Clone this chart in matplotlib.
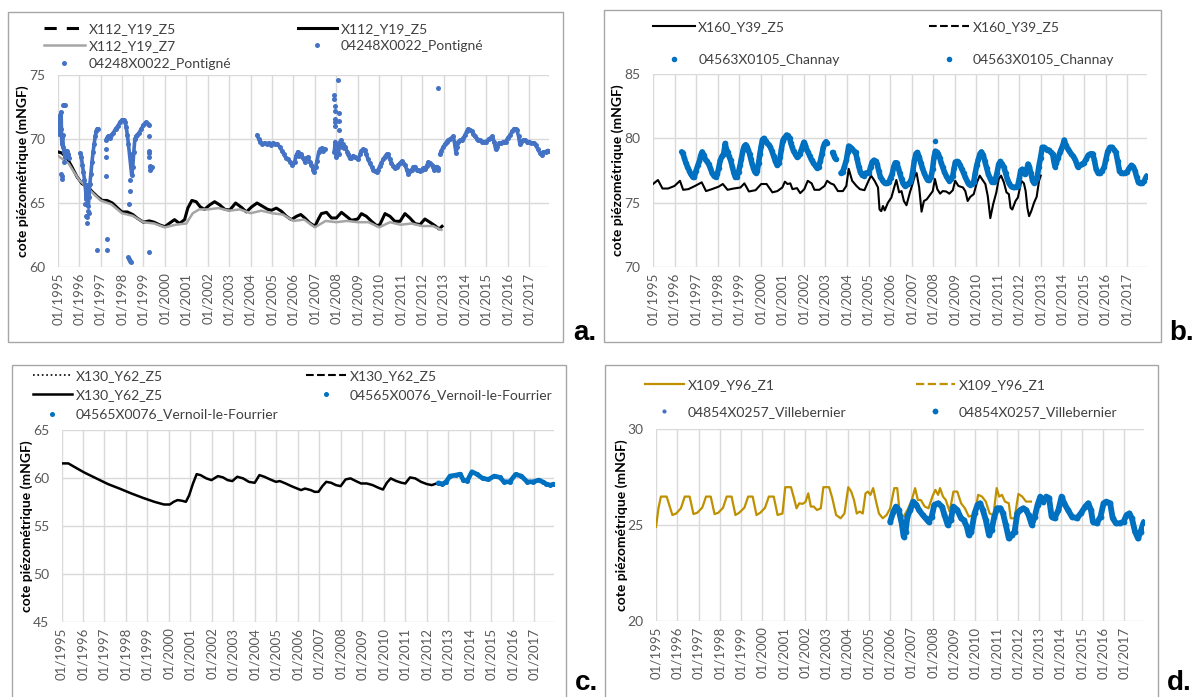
import matplotlib
matplotlib.use('Agg')
import matplotlib.pyplot as plt
import numpy as np
from matplotlib.patches import Rectangle
from matplotlib.legend import Legend

plt.rcParams['font.family'] = ['Lato', 'DejaVu Sans']

nan = np.nan

# ---------------- data (decimal years, mNGF) ----------------
tick_years = list(range(1995, 2018))
tick_labels = ['01/%d' % y for y in tick_years]

# a. Pontigne
a_z5 = [(1995.00, 69.0), (1995.20, 68.9), (1995.44, 68.5), (1995.67, 67.8), (1995.90, 67.05),
        (1996.14, 66.5), (1996.38, 66.3), (1996.60, 65.9), (1996.85, 65.5), (1997.08, 65.2),
        (1997.30, 65.2), (1997.55, 65.0), (1997.80, 64.6), (1998.00, 64.3), (1998.25, 64.3),
        (1998.50, 64.1), (1998.72, 63.8), (1999.00, 63.5), (1999.27, 63.6), (1999.50, 63.5),
        (1999.74, 63.3), (2000.00, 63.15), (2000.24, 63.45), (2000.45, 63.7), (2000.68, 63.4),
        (2000.92, 63.7), (2001.07, 64.6), (2001.26, 65.2), (2001.46, 65.1), (2001.65, 64.7),
        (2001.85, 64.5), (2002.09, 64.85), (2002.32, 65.1), (2002.56, 64.85), (2002.80, 64.5),
        (2003.03, 64.45), (2003.30, 65.0), (2003.58, 64.65), (2003.80, 64.3), (2004.05, 64.7),
        (2004.30, 65.0), (2004.60, 64.7), (2004.80, 64.5), (2004.97, 64.43), (2005.20, 64.6),
        (2005.44, 64.35), (2005.67, 63.96), (2005.90, 63.7), (2006.14, 63.96), (2006.34, 64.1),
        (2006.53, 63.83), (2006.76, 63.44), (2007.00, 63.18), (2007.15, 63.7), (2007.30, 64.17),
        (2007.54, 64.27), (2007.77, 63.83), (2008.00, 63.83), (2008.24, 64.27), (2008.47, 63.96),
        (2008.70, 63.65), (2009.00, 63.75), (2009.17, 64.17), (2009.40, 63.96), (2009.64, 63.57),
        (2009.88, 63.23), (2010.03, 63.31), (2010.27, 64.17), (2010.50, 63.96), (2010.73, 63.57),
        (2010.97, 63.57), (2011.20, 64.17), (2011.43, 63.83), (2011.67, 63.39), (2011.90, 63.31),
        (2012.13, 63.75), (2012.37, 63.49), (2012.60, 63.23), (2012.79, 62.97), (2012.93, 63.18)]
a_z7 = [(1995.00, 68.7), (1995.50, 68.1), (1996.00, 66.8), (1996.50, 66.0), (1997.00, 65.2),
        (1997.50, 64.9), (1998.00, 64.2), (1998.50, 64.0), (1999.00, 63.5), (1999.50, 63.4),
        (2000.00, 63.1), (2000.50, 63.3), (2001.00, 63.4), (2001.30, 64.2), (2001.60, 64.5),
        (2002.00, 64.5), (2002.50, 64.6), (2003.00, 64.4), (2003.50, 64.5), (2004.00, 64.2),
        (2004.50, 64.4), (2005.00, 64.2), (2005.50, 64.1), (2006.00, 63.6), (2006.50, 63.7),
        (2007.00, 63.1), (2007.50, 63.6), (2008.00, 63.5), (2008.50, 63.6), (2009.00, 63.5),
        (2009.50, 63.5), (2010.00, 63.1), (2010.50, 63.5), (2011.00, 63.3), (2011.50, 63.4),
        (2012.00, 63.2), (2012.50, 63.2), (2012.90, 62.9)]
a_obs = [(1995.00, 70.6), (1995.02, 71.4), (1995.04, 70.9), (1995.06, 71.7), (1995.08, 70.4),
         (1995.10, 71.3), (1995.12, 71.9), (1995.14, 70.8), (1995.16, 72.1), (1995.18, 70.2),
         (1995.20, 69.6), (1995.23, 70.3), (1995.26, 69.4), (1995.30, 69.0), (1995.34, 68.6),
         (1995.38, 68.9), (1995.42, 69.1), (1995.46, 68.7), (1995.50, 68.8), (1995.55, 68.5),
         (nan, nan),
         (1996.06, 68.9), (1996.10, 68.6), (1996.15, 68.0), (1996.20, 67.4), (1996.25, 66.8),
         (1996.30, 66.0), (1996.33, 65.3), (1996.36, 66.4), (1996.40, 65.6), (1996.43, 64.8),
         (1996.46, 65.5), (1996.50, 66.5), (1996.55, 67.3), (1996.60, 68.2), (1996.65, 69.0),
         (1996.70, 69.6), (1996.75, 70.2), (1996.80, 70.6), (1996.85, 70.8), (1996.90, 70.8),
         (nan, nan),
         (1997.25, 69.9), (1997.30, 70.1), (1997.35, 70.2), (1997.42, 70.1), (1997.50, 70.3),
         (1997.60, 70.5), (1997.70, 70.8), (1997.80, 71.0), (1997.90, 71.3), (1998.00, 71.5),
         (1998.08, 71.5), (1998.15, 71.3), (1998.20, 70.9), (1998.25, 70.3), (1998.30, 69.6),
         (1998.35, 68.8), (1998.40, 68.0), (1998.45, 67.2), (1998.50, 67.8), (1998.55, 69.0),
         (1998.60, 70.0), (1998.65, 70.2), (1998.70, 70.3), (1998.80, 70.5), (1998.90, 70.8),
         (1999.00, 71.1), (1999.10, 71.3), (1999.20, 71.2), (1999.25, 71.1),
         (nan, nan),
         (2004.30, 70.3), (2004.38, 70.0), (2004.46, 69.8), (2004.55, 69.6), (2004.65, 69.7),
         (2004.75, 69.6), (2004.85, 69.7), (2004.95, 69.5), (2005.05, 69.7), (2005.15, 69.6),
         (2005.25, 69.6), (2005.35, 69.4), (2005.45, 69.1), (2005.55, 68.8), (2005.65, 68.5),
         (2005.75, 68.4), (2005.85, 68.2), (2005.95, 68.0), (2006.05, 68.2), (2006.12, 68.7),
         (2006.20, 69.0), (2006.28, 68.7), (2006.37, 68.8), (2006.45, 68.5), (2006.53, 68.2),
         (2006.60, 68.5), (2006.68, 68.6), (2006.76, 68.2), (2006.84, 68.0), (2006.92, 67.6),
         (2006.97, 67.4), (2007.03, 67.8), (2007.10, 68.3), (2007.18, 69.0), (2007.25, 69.2),
         (2007.32, 69.3), (2007.40, 69.1), (2007.47, 69.2),
         (nan, nan),
         (2007.90, 69.0), (2007.95, 69.8), (2008.00, 68.6), (2008.05, 69.5), (2008.10, 68.8),
         (2008.15, 69.7), (2008.20, 69.9), (2008.25, 69.4), (2008.30, 69.6), (2008.35, 69.3),
         (2008.42, 69.4), (2008.50, 69.0), (2008.55, 68.8), (2008.62, 68.5), (2008.70, 68.5),
         (2008.78, 68.7), (2008.86, 68.6), (2008.94, 68.5), (2009.02, 68.4), (2009.10, 68.8),
         (2009.17, 69.1), (2009.25, 69.2), (2009.33, 69.15), (2009.40, 68.8), (2009.48, 68.4),
         (2009.56, 68.1), (2009.64, 67.85), (2009.72, 67.6), (2009.80, 67.5), (2009.88, 67.4),
         (2009.95, 67.6), (2010.03, 67.9), (2010.10, 68.1), (2010.18, 68.4), (2010.26, 68.6),
         (2010.34, 68.8), (2010.42, 68.8), (2010.50, 68.4), (2010.57, 68.1), (2010.65, 67.9),
         (2010.73, 67.7), (2010.81, 67.8), (2010.89, 68.0), (2010.97, 68.1), (2011.04, 68.25),
         (2011.12, 68.1), (2011.20, 68.0), (2011.28, 67.6), (2011.36, 67.3), (2011.44, 67.5),
         (2011.51, 67.6), (2011.59, 67.8), (2011.67, 67.85), (2011.75, 67.6), (2011.82, 67.6),
         (2011.90, 67.5), (2011.98, 67.6), (2012.06, 67.7), (2012.13, 67.65), (2012.21, 67.9),
         (2012.29, 68.2), (2012.37, 68.1), (2012.45, 68.0), (2012.52, 67.8), (2012.57, 67.6),
         (2012.63, 67.8), (2012.68, 67.85), (2012.72, 67.7), (2012.76, 67.6),
         (nan, nan),
         (2012.83, 68.8), (2012.90, 69.1), (2012.99, 69.4), (2013.07, 69.6), (2013.15, 69.8),
         (2013.22, 69.9), (2013.30, 70.0), (2013.38, 70.1), (2013.46, 70.2), (2013.52, 69.6),
         (2013.58, 68.9), (2013.64, 69.4), (2013.69, 69.8), (2013.77, 69.9), (2013.85, 69.9),
         (2013.93, 70.1), (2014.00, 70.3), (2014.08, 70.6), (2014.16, 70.8), (2014.24, 70.7),
         (2014.31, 70.6), (2014.39, 70.4), (2014.47, 70.2), (2014.55, 70.0), (2014.63, 69.9),
         (2014.71, 69.9), (2014.80, 69.8), (2014.90, 69.8), (2015.00, 69.8), (2015.10, 70.0),
         (2015.20, 70.1), (2015.28, 70.2), (2015.36, 69.8), (2015.43, 69.2), (2015.50, 69.4),
         (2015.60, 69.7), (2015.70, 69.7), (2015.80, 69.8), (2015.90, 69.8), (2016.00, 70.1),
         (2016.10, 70.3), (2016.20, 70.6), (2016.29, 70.8), (2016.36, 70.8), (2016.42, 70.7),
         (2016.50, 70.2), (2016.56, 69.6), (2016.62, 69.8), (2016.70, 69.9), (2016.80, 69.9),
         (2016.90, 69.8), (2017.00, 69.8), (2017.10, 69.7), (2017.20, 69.7), (2017.30, 69.5),
         (2017.40, 69.2), (2017.50, 68.9), (2017.58, 68.75), (2017.66, 69.0), (2017.76, 69.0),
         (2017.85, 69.1), (2017.92, 69.1)]
a_outliers = [(1995.15, 67.3), (1995.18, 66.9), (1995.21, 67.1), (1995.25, 72.65), (1995.30, 72.65),
              (1995.35, 72.65), (1995.28, 68.2), (1996.30, 64.0), (1996.35, 63.9), (1996.38, 63.4),
              (1996.42, 64.4), (1996.46, 64.2), (1996.28, 64.9), (1996.85, 61.3), (1997.25, 69.2),
              (1997.26, 68.6), (1997.27, 67.1), (1997.29, 62.2), (1997.29, 61.3), (1998.30, 60.8),
              (1998.33, 60.6), (1998.36, 60.45), (1998.40, 60.4), (1998.33, 64.9), (1998.35, 65.9),
              (1998.37, 66.8), (1999.27, 70.2), (1999.27, 69.1), (1999.28, 68.9), (1999.28, 68.6),
              (1999.30, 67.8), (1999.30, 67.6), (1999.32, 67.9), (1999.35, 67.7), (1999.38, 67.8),
              (1999.27, 61.2), (2007.90, 73.4), (2007.90, 73.1), (2007.92, 72.6), (2007.92, 72.2),
              (2007.93, 71.6), (2007.93, 71.3), (2007.94, 71.0), (2008.06, 74.6), (2008.10, 72.0),
              (2008.10, 71.4), (2008.12, 70.7), (2012.76, 74.0)]

# b. Channay
b_z5 = [(1995.00, 76.45), (1995.23, 76.76), (1995.44, 76.1), (1995.70, 76.1), (1996.00, 76.3),
        (1996.25, 76.7), (1996.40, 76.0), (1996.64, 76.05), (1996.95, 76.3), (1997.26, 76.58),
        (1997.46, 75.9), (1997.73, 76.05), (1998.04, 76.24), (1998.24, 76.45), (1998.46, 76.0),
        (1998.74, 76.1), (1999.06, 76.18), (1999.24, 76.5), (1999.45, 75.87), (1999.76, 75.97),
        (2000.02, 76.45), (2000.27, 76.45), (2000.54, 75.8), (2000.77, 75.9), (2001.00, 76.18),
        (2001.12, 76.63), (2001.24, 76.45), (2001.37, 76.5), (2001.47, 76.05), (2001.68, 76.13),
        (2001.83, 75.74), (2002.02, 76.05), (2002.18, 76.7), (2002.36, 76.5), (2002.49, 76.0),
        (2002.72, 76.0), (2002.96, 76.3), (2003.08, 76.7), (2003.24, 76.5), (2003.39, 76.4),
        (2003.58, 75.9), (2003.81, 75.9), (2003.97, 76.3), (2004.08, 77.63), (2004.24, 76.7),
        (2004.44, 76.3), (2004.60, 76.05), (2004.81, 75.97), (2005.00, 76.7), (2005.12, 77.1),
        (2005.28, 76.7), (2005.44, 76.18), (2005.51, 74.47), (2005.59, 74.34), (2005.67, 74.74),
        (2005.75, 74.4), (2005.90, 75.0), (2006.06, 75.4), (2006.21, 76.3), (2006.29, 76.76),
        (2006.42, 75.8), (2006.53, 75.9), (2006.64, 75.13), (2006.76, 74.8), (2006.92, 75.8),
        (2007.04, 76.45), (2007.15, 77.1), (2007.23, 77.3), (2007.35, 76.18), (2007.46, 74.3),
        (2007.57, 75.13), (2007.70, 75.26), (2007.82, 75.53), (2007.98, 75.9), (2008.08, 76.84),
        (2008.19, 76.05), (2008.32, 75.7), (2008.44, 75.9), (2008.60, 75.87), (2008.75, 75.7),
        (2008.91, 75.97), (2009.02, 76.7), (2009.17, 76.3), (2009.38, 76.18), (2009.49, 75.9),
        (2009.60, 75.13), (2009.72, 75.45), (2009.88, 75.66), (2010.03, 76.58), (2010.16, 77.1),
        (2010.26, 76.84), (2010.42, 76.45), (2010.53, 75.53), (2010.65, 73.8), (2010.78, 74.87),
        (2010.93, 75.8), (2011.04, 76.84), (2011.15, 77.1), (2011.28, 76.58), (2011.40, 75.8),
        (2011.51, 75.66), (2011.59, 74.6), (2011.67, 74.47), (2011.82, 75.13), (2011.93, 75.4),
        (2012.09, 76.7), (2012.21, 76.5), (2012.29, 75.9), (2012.37, 74.6), (2012.45, 73.95),
        (2012.55, 74.34), (2012.68, 75.0), (2012.80, 75.45), (2012.91, 76.7), (2012.99, 77.1)]
b_obs = [(1996.33, 78.95), (1996.38, 78.85), (1996.45, 78.5), (1996.52, 78.1), (1996.60, 77.8),
         (1996.68, 77.5), (1996.76, 77.2), (1996.84, 77.0), (1996.92, 77.0), (1997.00, 77.5),
         (1997.08, 77.9), (1997.15, 78.2), (1997.22, 78.7), (1997.28, 78.95), (1997.35, 78.7),
         (1997.42, 78.4), (1997.50, 78.2), (1997.58, 78.0), (1997.66, 77.7), (1997.74, 77.3),
         (1997.82, 77.1), (1997.90, 77.0), (1997.98, 77.2), (1998.05, 77.7), (1998.12, 78.3),
         (1998.20, 78.6), (1998.28, 78.8), (1998.35, 79.6), (1998.40, 79.2), (1998.46, 78.95),
         (1998.53, 78.6), (1998.60, 78.3), (1998.68, 77.8), (1998.75, 77.3), (1998.82, 77.0),
         (1998.90, 77.0), (1998.97, 77.4), (1999.04, 77.9), (1999.10, 78.4), (1999.18, 79.1),
         (1999.24, 79.4), (1999.30, 79.5), (1999.36, 79.3), (1999.42, 79.1), (1999.48, 78.8),
         (1999.54, 78.4), (1999.60, 78.0), (1999.66, 77.7), (1999.72, 77.4), (1999.78, 77.3),
         (1999.84, 77.5), (1999.90, 78.1), (1999.96, 78.8), (2000.02, 79.4), (2000.08, 79.9),
         (2000.15, 80.0), (2000.22, 79.8), (2000.30, 79.6), (2000.38, 79.5), (2000.45, 79.3),
         (2000.52, 79.0), (2000.60, 78.6), (2000.68, 78.2), (2000.76, 77.9), (2000.84, 78.1),
         (2000.90, 78.55), (2000.96, 79.2), (2001.02, 79.8), (2001.08, 80.0), (2001.14, 80.1),
         (2001.20, 80.26), (2001.28, 80.2), (2001.34, 80.0), (2001.40, 79.6), (2001.46, 79.3),
         (2001.52, 79.0), (2001.60, 78.8), (2001.68, 78.55), (2001.75, 78.6), (2001.82, 78.8),
         (2001.88, 79.1), (2001.94, 79.4), (2002.00, 79.7), (2002.06, 79.5), (2002.12, 79.2),
         (2002.20, 78.9), (2002.28, 78.6), (2002.36, 78.3), (2002.44, 78.1), (2002.52, 77.9),
         (2002.60, 77.7), (2002.68, 77.8), (2002.76, 78.2), (2002.84, 78.8), (2002.90, 79.3),
         (2002.96, 79.6), (2003.03, 79.74), (2003.08, 79.6),
         (nan, nan),
         (2003.33, 78.9), (2003.38, 78.7), (2003.43, 78.5), (2003.48, 78.4),
         (nan, nan),
         (2003.72, 77.3), (2003.80, 77.4), (2003.88, 77.8), (2003.97, 78.3), (2004.03, 78.9),
         (2004.08, 79.4), (2004.16, 79.3), (2004.24, 79.2), (2004.32, 79.0), (2004.40, 78.9),
         (2004.47, 78.4), (2004.55, 77.8), (2004.62, 77.4), (2004.70, 77.15), (2004.78, 77.1),
         (2004.86, 77.3), (2004.94, 77.3), (2005.02, 77.3), (2005.10, 77.8), (2005.17, 78.16),
         (2005.25, 78.3), (2005.33, 78.2), (2005.40, 78.0), (2005.47, 77.5), (2005.55, 77.0),
         (2005.63, 76.8), (2005.70, 76.6), (2005.78, 76.5), (2005.86, 76.5), (2005.94, 76.58),
         (2006.02, 76.9), (2006.10, 77.24), (2006.17, 77.8), (2006.24, 78.1), (2006.31, 78.1),
         (2006.38, 77.7), (2006.45, 77.3), (2006.53, 76.84), (2006.60, 76.5), (2006.68, 76.3),
         (2006.76, 76.4), (2006.84, 76.45), (2006.92, 76.6), (2006.99, 76.84), (2007.06, 77.5),
         (2007.13, 78.3), (2007.20, 78.8), (2007.27, 78.9), (2007.35, 78.55), (2007.42, 78.1),
         (2007.50, 77.7), (2007.58, 77.3), (2007.66, 77.0), (2007.74, 76.75), (2007.82, 76.8),
         (2007.90, 77.0), (2007.97, 77.6), (2008.04, 78.55), (2008.10, 79.0), (2008.16, 78.95),
         (2008.23, 78.8), (2008.30, 78.5), (2008.37, 78.1), (2008.44, 77.76), (2008.52, 77.4),
         (2008.60, 77.1), (2008.68, 76.85), (2008.75, 76.7), (2008.83, 76.85), (2008.91, 77.1),
         (2008.97, 77.7), (2009.03, 78.16), (2009.10, 78.2), (2009.17, 78.16), (2009.25, 77.9),
         (2009.33, 77.6), (2009.41, 77.3), (2009.49, 76.97), (2009.57, 76.7), (2009.64, 76.45),
         (2009.72, 76.4), (2009.80, 76.45), (2009.88, 76.6), (2009.95, 77.3), (2010.02, 77.9),
         (2010.10, 78.4), (2010.17, 78.8), (2010.24, 78.95), (2010.32, 78.7), (2010.40, 78.2),
         (2010.48, 77.7), (2010.56, 77.2), (2010.64, 76.9), (2010.72, 76.6), (2010.80, 76.6),
         (2010.88, 76.8), (2010.96, 77.3), (2011.04, 78.0), (2011.12, 78.2), (2011.20, 78.0),
         (2011.28, 77.76), (2011.36, 77.3), (2011.44, 76.84), (2011.52, 76.5), (2011.60, 76.3),
         (2011.68, 76.2), (2011.76, 76.18), (2011.84, 76.2), (2011.92, 76.3), (2012.00, 76.9),
         (2012.06, 77.5), (2012.13, 77.6), (2012.20, 77.4), (2012.26, 77.2), (2012.33, 77.5),
         (2012.40, 78.0), (2012.46, 77.8), (2012.53, 77.3), (2012.60, 76.8), (2012.66, 76.55),
         (2012.74, 76.6), (2012.82, 76.9), (2012.90, 77.8), (2012.98, 78.5), (2013.06, 79.3),
         (2013.14, 79.3), (2013.22, 79.2), (2013.30, 79.1), (2013.38, 79.08), (2013.46, 78.9),
         (2013.54, 78.8), (2013.60, 78.2), (2013.65, 77.8), (2013.72, 78.1), (2013.80, 78.5),
         (2013.88, 78.9), (2013.95, 79.2), (2014.02, 79.5), (2014.08, 79.87), (2014.15, 79.5),
         (2014.24, 79.2), (2014.32, 79.0), (2014.40, 78.8), (2014.50, 78.6), (2014.60, 78.3),
         (2014.70, 77.8), (2014.80, 77.9), (2014.90, 78.0), (2015.00, 78.1), (2015.10, 78.4),
         (2015.20, 78.7), (2015.30, 78.8), (2015.40, 78.8), (2015.48, 78.3), (2015.56, 77.6),
         (2015.65, 77.3), (2015.75, 77.27), (2015.85, 77.5), (2015.94, 77.8), (2016.02, 78.4),
         (2016.10, 79.0), (2016.20, 79.3), (2016.30, 79.3), (2016.40, 79.1), (2016.48, 78.9),
         (2016.56, 78.2), (2016.64, 77.5), (2016.72, 77.3), (2016.82, 77.27), (2016.92, 77.3),
         (2017.00, 77.4), (2017.10, 77.7), (2017.20, 77.9), (2017.28, 77.8), (2017.36, 77.5),
         (2017.44, 77.0), (2017.52, 76.6), (2017.60, 76.5), (2017.70, 76.5), (2017.80, 76.7),
         (2017.88, 77.0), (2017.92, 77.1)]
b_outliers = [(2008.08, 79.8)]

# c. Vernoil-le-Fourrier
c_z5 = [(1995.00, 61.52), (1995.32, 61.52), (1995.72, 61.0), (1996.08, 60.55), (1996.62, 59.96),
        (1997.16, 59.37), (1997.70, 58.9), (1998.24, 58.4), (1998.78, 57.94), (1999.32, 57.52),
        (1999.77, 57.24), (2000.04, 57.24), (2000.22, 57.52), (2000.40, 57.7), (2000.61, 57.63),
        (2000.79, 57.52), (2000.94, 58.2), (2001.12, 59.43), (2001.29, 60.4), (2001.47, 60.3),
        (2001.74, 59.96), (2001.98, 59.78), (2002.28, 60.2), (2002.52, 60.06), (2002.73, 59.78),
        (2002.95, 59.68), (2003.18, 60.13), (2003.45, 59.96), (2003.72, 59.6), (2003.99, 59.5),
        (2004.21, 60.3), (2004.44, 60.13), (2004.71, 59.85), (2004.98, 59.6), (2005.16, 59.68),
        (2005.43, 59.43), (2005.70, 59.15), (2005.97, 58.9), (2006.15, 58.74), (2006.33, 58.9),
        (2006.60, 58.74), (2006.78, 58.56), (2006.96, 58.56), (2007.14, 59.15), (2007.32, 59.6),
        (2007.55, 59.5), (2007.77, 59.26), (2007.99, 59.15), (2008.22, 59.85), (2008.45, 59.96),
        (2008.70, 59.68), (2008.94, 59.43), (2009.21, 59.43), (2009.48, 59.26), (2009.75, 58.98),
        (2009.96, 58.8), (2010.14, 59.5), (2010.32, 59.96), (2010.56, 59.7), (2010.83, 59.5),
        (2011.00, 59.43), (2011.22, 60.06), (2011.46, 59.96), (2011.73, 59.6), (2012.00, 59.37),
        (2012.23, 59.26), (2012.45, 59.43), (2012.72, 59.26), (2012.90, 59.43)]
c_obs = [(2012.54, 59.5), (2012.72, 59.37), (2012.90, 59.6), (2013.08, 60.2), (2013.35, 60.3),
         (2013.56, 60.4), (2013.70, 59.78), (2013.88, 59.7), (2014.10, 60.65), (2014.33, 60.4),
         (2014.60, 59.96), (2014.87, 59.85), (2015.14, 60.2), (2015.41, 60.06), (2015.59, 59.6),
         (2015.86, 59.6), (2016.13, 60.37), (2016.40, 60.2), (2016.67, 59.6), (2016.94, 59.6),
         (2017.21, 59.78), (2017.39, 59.6), (2017.57, 59.37), (2017.75, 59.26), (2017.92, 59.37)]

# d. Villebernier
d_z1 = [(1995.00, 24.9), (1995.12, 25.9), (1995.23, 26.48), (1995.50, 26.48), (1995.77, 25.52),
        (1995.95, 25.6), (1996.17, 25.87), (1996.35, 26.48), (1996.58, 26.48), (1996.76, 25.57),
        (1996.94, 25.64), (1997.17, 25.9), (1997.35, 26.48), (1997.57, 26.48), (1997.75, 25.57),
        (1997.93, 25.64), (1998.15, 25.9), (1998.32, 26.48), (1998.55, 26.48), (1998.73, 25.52),
        (1998.91, 25.64), (1999.15, 25.9), (1999.33, 26.48), (1999.54, 26.48), (1999.72, 25.52),
        (1999.90, 25.64), (2000.12, 25.9), (2000.30, 26.48), (2000.53, 26.48), (2000.71, 25.52),
        (2000.94, 25.6), (2001.07, 26.97), (2001.34, 26.97), (2001.48, 26.4), (2001.60, 25.87),
        (2001.73, 26.13), (2001.88, 26.1), (2002.02, 26.2), (2002.15, 26.65), (2002.27, 25.96),
        (2002.41, 25.96), (2002.56, 25.78), (2002.74, 25.87), (2002.86, 26.97), (2003.13, 26.97),
        (2003.28, 26.4), (2003.46, 25.52), (2003.67, 25.35), (2003.85, 25.6), (2004.03, 26.97),
        (2004.17, 26.74), (2004.30, 26.3), (2004.43, 25.6), (2004.57, 25.7), (2004.71, 25.6),
        (2004.84, 26.65), (2004.96, 26.74), (2005.07, 26.57), (2005.20, 26.92), (2005.32, 26.3),
        (2005.47, 25.6), (2005.65, 25.35), (2005.83, 25.52), (2006.00, 25.87), (2006.19, 26.92),
        (2006.33, 26.92), (2006.45, 25.6), (2006.63, 25.44), (2006.81, 25.78), (2006.99, 26.22),
        (2007.17, 26.92), (2007.30, 26.3), (2007.44, 26.3), (2007.62, 25.96), (2007.80, 25.87),
        (2007.98, 26.48), (2008.12, 26.83), (2008.25, 26.57), (2008.34, 26.92), (2008.48, 26.48),
        (2008.61, 26.3), (2008.79, 25.7), (2008.97, 26.74), (2009.15, 26.74), (2009.33, 26.13),
        (2009.51, 25.87), (2009.69, 25.44), (2009.96, 25.52), (2010.13, 26.57), (2010.31, 26.48),
        (2010.49, 26.22), (2010.67, 25.6), (2010.85, 25.52), (2011.00, 26.92), (2011.12, 26.48),
        (2011.25, 26.57), (2011.39, 26.22), (2011.57, 26.13), (2011.66, 25.35), (2011.84, 25.35),
        (2012.02, 26.62), (2012.20, 26.48), (2012.38, 26.22), (2012.61, 26.22)]
d_obs = [(2006.00, 25.17), (2006.15, 25.7), (2006.27, 25.96), (2006.40, 25.78), (2006.54, 25.09),
         (2006.63, 24.4), (2006.72, 24.65), (2006.81, 25.44), (2006.94, 25.78), (2007.08, 26.22),
         (2007.23, 26.05), (2007.35, 25.78), (2007.53, 25.52), (2007.66, 25.35), (2007.80, 25.17),
         (2007.95, 25.44), (2008.07, 26.05), (2008.25, 26.13), (2008.43, 25.96), (2008.55, 25.52),
         (2008.70, 25.0), (2008.84, 25.26), (2008.97, 25.96), (2009.15, 25.78), (2009.33, 25.35),
         (2009.45, 25.26), (2009.60, 24.91), (2009.69, 24.48), (2009.81, 24.65), (2009.96, 25.6),
         (2010.10, 26.05), (2010.22, 26.13), (2010.35, 25.78), (2010.49, 25.26), (2010.64, 24.48),
         (2010.76, 24.74), (2010.89, 25.44), (2011.03, 25.87), (2011.18, 25.87), (2011.30, 25.6),
         (2011.43, 25.0), (2011.57, 24.3), (2011.71, 24.48), (2011.84, 24.65), (2011.97, 25.6),
         (2012.11, 25.78), (2012.25, 25.87), (2012.38, 25.78), (2012.50, 25.52), (2012.65, 25.0),
         (2012.79, 25.44), (2012.92, 26.05), (2013.05, 26.48), (2013.19, 26.22), (2013.33, 26.48),
         (2013.46, 26.4), (2013.58, 25.44), (2013.72, 25.35), (2013.90, 25.78), (2014.05, 26.48),
         (2014.17, 26.13), (2014.35, 25.78), (2014.53, 25.44), (2014.77, 25.35), (2014.95, 25.6),
         (2015.16, 25.96), (2015.30, 26.13), (2015.43, 25.78), (2015.52, 25.17), (2015.70, 25.09),
         (2015.88, 25.44), (2016.02, 26.13), (2016.15, 26.22), (2016.33, 26.13), (2016.45, 25.35),
         (2016.60, 25.09), (2016.78, 25.09), (2016.96, 25.17), (2017.10, 25.52), (2017.23, 25.6),
         (2017.35, 25.35), (2017.50, 24.65), (2017.64, 24.3), (2017.76, 24.65), (2017.89, 25.09),
         (2017.92, 25.17)]

BLUE_A = '#4472C4'
BLUE = '#0070C0'
GOLD = '#BF9000'
GREY = '#A5A5A5'

# ---------------- layout helpers (pixels of the 1192x697 picture) ----------------
W, H = 1192, 697
fig = plt.figure(figsize=(W / 100, H / 100), dpi=100)


def fx(px):
    return px / W


def fy(py):
    return 1 - py / H


def xy(pairs):
    arr = np.array(pairs, dtype=float)
    return arr[:, 0], arr[:, 1]


def make_axes(l, t, r, b, ylo, yhi):
    ax = fig.add_axes([fx(l), fy(b), fx(r) - fx(l), fy(t) - fy(b)])
    ax.set_xlim(1995, 2017.92)
    ax.set_ylim(ylo, yhi)
    ax.set_xticks(tick_years)
    ax.set_xticklabels(tick_labels, rotation=90, fontsize=9.5, color='#595959')
    ax.set_yticks(np.arange(ylo, yhi + 1, 5))
    ax.tick_params(axis='y', labelsize=10, labelcolor='#595959', length=0, pad=9)
    ax.tick_params(axis='x', length=0, pad=4)
    ax.grid(True, color='#D9D9D9', lw=1)
    ax.set_axisbelow(True)
    for s in ax.spines.values():
        s.set_visible(False)
    ax.set_ylabel('cote piézométrique (mNGF)', fontsize=10, fontweight='bold')
    ax.yaxis.set_label_coords(-0.058, 0.5)
    return ax


def frame(l, t, r, b, letter, lx, ly):
    fig.add_artist(Rectangle((fx(l), fy(b)), fx(r) - fx(l), fy(t) - fy(b),
                             transform=fig.transFigure, fill=False,
                             edgecolor='#A6A6A6', lw=1))
    fig.text(fx(lx), fy(ly), letter, fontsize=20, fontweight='bold',
             family='Liberation Sans', va='bottom', ha='left')


def legend_col(ax, handles, x_px, top_px, hlen, spacing):
    # one legend per column, so each column sits where Excel put it
    leg = Legend(ax, handles, [h.get_label() for h in handles], loc='upper left',
                 bbox_to_anchor=(fx(x_px), fy(top_px)), bbox_transform=fig.transFigure,
                 frameon=False, borderpad=0, borderaxespad=0, handlelength=hlen,
                 handletextpad=0.25, labelspacing=spacing, fontsize=10,
                 labelcolor='#404040')
    ax.add_artist(leg)


def obs(ax, pairs, color, lw, ms, label):
    x, y = xy(pairs)
    ax.plot(x, y, '-', color=color, lw=lw, solid_capstyle='round', zorder=4)
    return ax.plot(x, y, 'o', color=color, ms=ms, mew=0, zorder=4, label=label)[0]


# ---------------- a ----------------
frame(8, 12, 563, 342, 'a.', 573, 346)
ax = make_axes(57.7, 75, 549, 267, 60, 75)
a_dash, = ax.plot([], [], '--', color='k', lw=2.2, dashes=(4, 3.3), label='X112_Y19_Z5')
a_solid, = ax.plot(*xy(a_z5), '-', color='k', lw=2.2, label='X112_Y19_Z5', zorder=3)
a_grey, = ax.plot(*xy(a_z7), '-', color=GREY, lw=1.8, label='X112_Y19_Z7', zorder=3)
a_dots = obs(ax, a_obs, BLUE_A, 2.6, 3.6, '04248X0022_Pontigné')
a_out, = ax.plot(*xy(a_outliers), 'o', color=BLUE_A, ms=3.6, mew=0, zorder=4,
                 label='04248X0022_Pontigné')
legend_col(ax, [a_dash, a_grey, a_out], 44, 23, 2.95, 0.38)
legend_col(ax, [a_solid, a_dots], 298, 23, 2.8, 0.38)

# ---------------- b ----------------
frame(604, 10, 1161, 342, 'b.', 1169, 346)
ax = make_axes(653, 74, 1147, 267, 70, 85)
b_solid, = ax.plot(*xy(b_z5), '-', color='k', lw=1.5, label='X160_Y39_Z5', zorder=3)
b_dash, = ax.plot([], [], '--', color='k', lw=1.5, label='X160_Y39_Z5')
b_dots = obs(ax, b_obs, BLUE, 4.0, 4.0, '04563X0105_Channay')
b_out, = ax.plot(*xy(b_outliers), 'o', color=BLUE, ms=4.0, mew=0, zorder=4,
                 label='04563X0105_Channay')
legend_col(ax, [b_solid, b_out], 653, 21, 3.0, 1.5)
legend_col(ax, [b_dash, b_dots], 929, 21, 2.9, 1.5)

# ---------------- c ----------------
frame(11.5, 365, 566, 705, 'c.', 575, 696)
ax = make_axes(61.5, 430, 554, 622, 45, 65)
c_dot, = ax.plot([], [], ':', color='k', lw=1.2, label='X130_Y62_Z5')
c_dash, = ax.plot([], [], '--', color='k', lw=1.5, label='X130_Y62_Z5')
c_solid, = ax.plot(*xy(c_z5), '-', color='k', lw=1.8, label='X130_Y62_Z5', zorder=3)
c_dots = obs(ax, c_obs, BLUE, 3.4, 3.6, '04565X0076_Vernoil-le-Fourrier')
legend_col(ax, [c_dot, c_solid, c_dots], 33, 370, 2.8, 0.52)
legend_col(ax, [c_dash, c_dots], 306, 370, 2.9, 0.52)

# ---------------- d ----------------
frame(605, 365, 1158, 705, 'd.', 1167, 696)
ax = make_axes(656, 429, 1144, 621, 20, 30)
d_solid, = ax.plot(*xy(d_z1), '-', color=GOLD, lw=1.6, label='X109_Y96_Z1', zorder=3)
d_dash, = ax.plot([], [], '--', color=GOLD, lw=1.6, label='X109_Y96_Z1')
d_small, = ax.plot([], [], 'o', color=BLUE_A, ms=3.0, mew=0, label='04854X0257_Villebernier')
d_dots = obs(ax, d_obs, BLUE, 4.2, 4.2, '04854X0257_Villebernier')
legend_col(ax, [d_solid, d_small], 645, 379, 2.8, 1.05)
legend_col(ax, [d_dash, d_dots], 916, 379, 2.8, 1.05)

fig.savefig('out.png', dpi=100)
